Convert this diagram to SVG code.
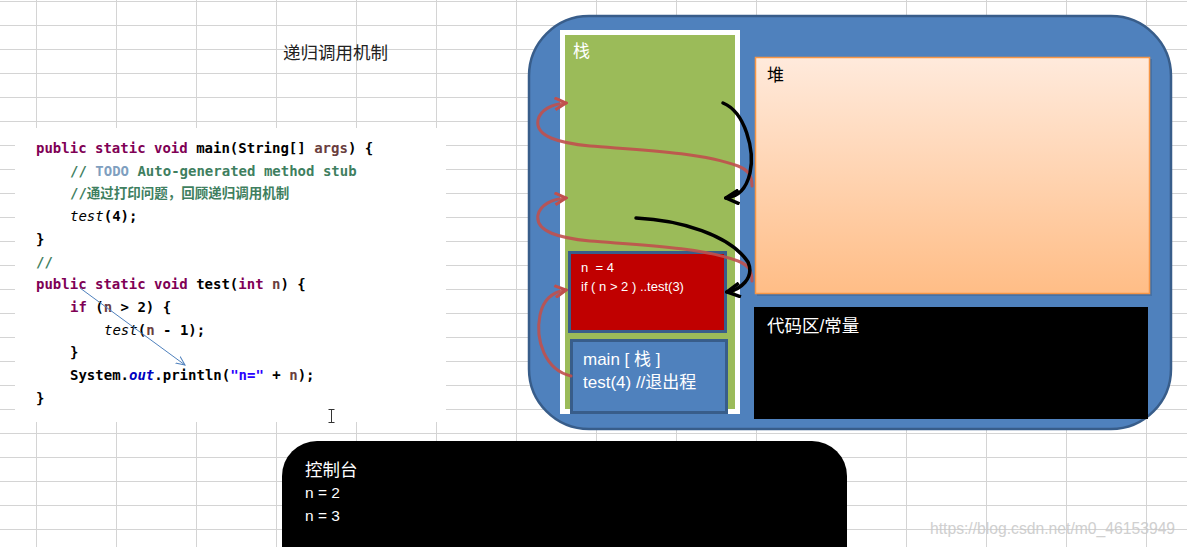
<svg xmlns="http://www.w3.org/2000/svg" width="1187" height="547" viewBox="0 0 1187 547">
<style>
.grid line{stroke:#d4d4d4;stroke-width:1}
.code{font-family:"DejaVu Sans Mono","Liberation Mono","Noto Sans CJK SC",monospace;font-size:14px;font-weight:bold;fill:#000}
.kw{fill:#7f0055}
.pm{fill:#6a3e3e}
.cm{fill:#3f7f5f}
.todo{fill:#7f9fbf}
.it{font-style:italic;font-weight:normal}
.fld{fill:#0000c0;font-style:italic}
.str{fill:#2a00ff}
.lbl{font-family:"Liberation Sans","Noto Sans CJK SC",sans-serif}
.wt{fill:#fff}
.red{fill:none;stroke:#c0504d;stroke-width:3;stroke-opacity:0.9;stroke-linecap:round}
.blk{fill:none;stroke:#000;stroke-width:3.5;stroke-linecap:round}
</style>
<defs>
<linearGradient id="heapGrad" x1="0" y1="0" x2="0" y2="1">
<stop offset="0" stop-color="#ffeadc"/>
<stop offset="1" stop-color="#ffbd86"/>
</linearGradient>
<marker id="redHead" viewBox="0 0 14 14" refX="12" refY="7" markerWidth="14" markerHeight="14" markerUnits="userSpaceOnUse" orient="auto">
<path d="M1,1 L12,7 L1,13" fill="none" stroke="#c0504d" stroke-width="3" stroke-linejoin="miter"/>
</marker>
<marker id="blkHead" viewBox="0 0 16 16" refX="14" refY="8" markerWidth="16" markerHeight="16" markerUnits="userSpaceOnUse" orient="auto">
<path d="M1,1 L14,8 L1,15" fill="none" stroke="#000" stroke-width="3.5" stroke-linejoin="miter"/>
</marker>
<marker id="blueHead" viewBox="0 0 10 10" refX="9" refY="5" markerWidth="10" markerHeight="10" markerUnits="userSpaceOnUse" orient="auto">
<path d="M0,1 L9,5 L0,9" fill="none" stroke="#4f81bd" stroke-width="1"/>
</marker>
</defs>
<rect width="1187" height="547" fill="#fff"/>
<g class="grid">
<line x1="36.5" y1="0" x2="36.5" y2="547"/><line x1="116.5" y1="0" x2="116.5" y2="547"/><line x1="196.5" y1="0" x2="196.5" y2="547"/><line x1="276.5" y1="0" x2="276.5" y2="547"/><line x1="356.5" y1="0" x2="356.5" y2="547"/><line x1="436.5" y1="0" x2="436.5" y2="547"/><line x1="516.5" y1="0" x2="516.5" y2="547"/><line x1="596.5" y1="0" x2="596.5" y2="547"/><line x1="676.5" y1="0" x2="676.5" y2="547"/><line x1="756.5" y1="0" x2="756.5" y2="547"/><line x1="906.5" y1="0" x2="906.5" y2="547"/><line x1="986.5" y1="0" x2="986.5" y2="547"/><line x1="1066.5" y1="0" x2="1066.5" y2="547"/><line x1="1146.5" y1="0" x2="1146.5" y2="547"/>
<line x1="0" y1="1.5" x2="1187" y2="1.5"/><line x1="0" y1="25.5" x2="1187" y2="25.5"/><line x1="0" y1="49.5" x2="1187" y2="49.5"/><line x1="0" y1="73.5" x2="1187" y2="73.5"/><line x1="0" y1="97.5" x2="1187" y2="97.5"/><line x1="0" y1="121.5" x2="1187" y2="121.5"/><line x1="0" y1="145.5" x2="1187" y2="145.5"/><line x1="0" y1="169.5" x2="1187" y2="169.5"/><line x1="0" y1="193.5" x2="1187" y2="193.5"/><line x1="0" y1="217.5" x2="1187" y2="217.5"/><line x1="0" y1="241.5" x2="1187" y2="241.5"/><line x1="0" y1="265.5" x2="1187" y2="265.5"/><line x1="0" y1="289.5" x2="1187" y2="289.5"/><line x1="0" y1="313.5" x2="1187" y2="313.5"/><line x1="0" y1="337.5" x2="1187" y2="337.5"/><line x1="0" y1="361.5" x2="1187" y2="361.5"/><line x1="0" y1="385.5" x2="1187" y2="385.5"/><line x1="0" y1="409.5" x2="1187" y2="409.5"/><line x1="0" y1="433.5" x2="1187" y2="433.5"/><line x1="0" y1="457.5" x2="1187" y2="457.5"/><line x1="0" y1="481.5" x2="1187" y2="481.5"/><line x1="0" y1="505.5" x2="1187" y2="505.5"/><line x1="0" y1="529.5" x2="1187" y2="529.5"/>
</g>
<g id="title">
<text x="283" y="59" class="lbl" font-size="17.5" fill="#222">递归调用机制</text>
</g>
<g id="code">
<rect x="15" y="128" width="431" height="294" fill="#fff"/>
<text class="code" x="36" y="153"><tspan class="kw">public static void</tspan> main(String[] <tspan class="pm">args</tspan>) {</text>
<text class="code cm" x="70" y="175.7">// <tspan class="todo">TODO</tspan> Auto-generated method stub</text>
<text class="code cm" x="70" y="198.4">//<tspan font-size="13.5">通过打印问题，回顾递归调用机制</tspan></text>
<text class="code" x="70" y="221.1"><tspan class="it">test</tspan>(4);</text>
<text class="code" x="36" y="243.8">}</text>
<text class="code cm" x="36" y="266.5">//</text>
<text class="code" x="36" y="289.2"><tspan class="kw">public static void</tspan> test(<tspan class="kw">int</tspan> <tspan class="pm">n</tspan>) {</text>
<text class="code" x="70" y="311.9"><tspan class="kw">if</tspan> (<tspan class="pm">n</tspan> &gt; 2) {</text>
<text class="code" x="104" y="334.6"><tspan class="it">test</tspan>(<tspan class="pm">n</tspan> - 1);</text>
<text class="code" x="70" y="357.3">}</text>
<text class="code" x="70" y="380">System.<tspan class="fld">out</tspan>.println(<tspan class="str">"n="</tspan> + <tspan class="pm">n</tspan>);</text>
<text class="code" x="36" y="402.7">}</text>
<path d="M328.5 409.5 h6 M331.5 409.5 v13 M328.5 422.5 h6" stroke="#333" stroke-width="1" fill="none"/>
</g>
<g id="memory">
<rect x="529" y="16" width="642" height="413" rx="60" ry="60" fill="#4f81bd" stroke="#385d8a" stroke-width="2.5"/>
</g>
<g id="stack">
<rect x="562.5" y="32.5" width="175" height="379" fill="#9bbb59" stroke="#fff" stroke-width="5"/>
<text x="573" y="57" class="lbl wt" font-size="17">栈</text>
</g>
<g id="heap">
<rect x="757" y="59" width="395" height="237" fill="#000" opacity="0.12"/>
<rect x="755.5" y="57.5" width="394" height="236" fill="url(#heapGrad)" stroke="#f79646" stroke-width="1.5"/>
<text x="767" y="81" class="lbl" font-size="17" fill="#000">堆</text>
</g>
<g id="code-area">
<rect x="754" y="307" width="394" height="112" fill="#000"/>
<text x="767" y="332" class="lbl wt" font-size="17.5">代码区/常量</text>
</g>
<g id="frame-test4">
<rect x="569.5" y="252.5" width="156" height="79" fill="#c00000" stroke="#385d8a" stroke-width="3"/>
<text x="581" y="272" class="lbl wt" font-size="13" xml:space="preserve">n  = 4</text>
<text x="581" y="291" class="lbl wt" font-size="13" xml:space="preserve">if ( n &gt; 2 ) ..test(3)</text>
</g>
<g id="frame-main">
<rect x="571.5" y="340.5" width="155" height="72" fill="#4f81bd" stroke="#385d8a" stroke-width="3"/>
<text x="583" y="365" class="lbl wt" font-size="17">main [ 栈 ]</text>
<text x="583" y="388" class="lbl wt" font-size="17">test(4) //退出程</text>
</g>
<g id="console">
<path d="M282 560 V476 A35 35 0 0 1 317 441 H812 A35 35 0 0 1 847 476 V560 Z" fill="#000"/>
<text x="305" y="476" class="lbl wt" font-size="17.5">控制台</text>
<text x="305" y="498" class="lbl wt" font-size="15.5">n = 2</text>
<text x="305" y="521" class="lbl wt" font-size="15.5">n = 3</text>
</g>
<g id="connectors">
<path class="red" d="M752 186 C752 175 748 170 738 166 C700 152 640 150 590 146 C560 143 535 137 538 120 C540 110 552 104 566 103" marker-end="url(#redHead)"/>
<path class="red" d="M752 281 C752 270 748 265 738 261 C700 247 640 245 590 241 C560 238 535 232 538 215 C540 205 552 199 566 198" marker-end="url(#redHead)"/>
<path class="red" d="M571 376 C545 370 535 340 540 315 C543 300 552 292 566 290" marker-end="url(#redHead)"/>
<path class="blk" d="M723 103 C745 112 755 150 750 173 C746 190 738 197 726 198" marker-end="url(#blkHead)"/>
<path class="blk" d="M636 218 C680 220 730 235 748 262 C755 278 740 290 727 292" marker-end="url(#blkHead)"/>
<path d="M80 288 L185 365" fill="none" stroke="#4f81bd" stroke-width="1" marker-end="url(#blueHead)"/>
</g>
<text x="930" y="534" font-family="Liberation Sans, sans-serif" font-size="15.7" fill="#c8c8c8" opacity="0.85">https://blog.csdn.net/m0_46153949</text>
</svg>
